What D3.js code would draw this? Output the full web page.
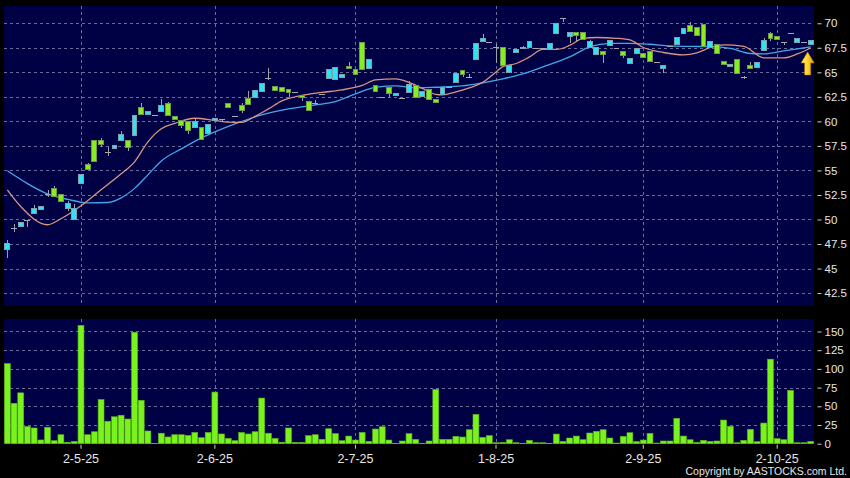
<!DOCTYPE html>
<html><head><meta charset="utf-8">
<script src="https://cdn.jsdelivr.net/npm/d3@7"></script>
<style>
html,body{margin:0;padding:0;background:#000;}
svg{display:block;}
</style></head><body>
<svg id="c" width="850" height="478"></svg>
<script>
// ---------- data ----------
const dateLabels = ["2-5-25","2-6-25","2-7-25","1-8-25","2-9-25","2-10-25"];
const dateTickIndex = [11,31,52,73,95,115];
const priceTicks = [42.5,45,47.5,50,52.5,55,57.5,60,62.5,65,67.5,70];
const volTicks = [0,25,50,75,100,125,150];

const openP = [46.98,49.15,49.28,49.9,50.61,51.01,52.6,53.19,52.54,51.08,
50.04,53.70,55.57,58.08,58.08,56.92,57.23,58.08,58.08,58.59,
61.44,60.73,60.6,61.0,61.85,60.49,60.05,59.95,59.41,59.41,
58.8,60.12,60.25,61.81,60.56,61.58,62.32,62.42,63.03,64.4,
63.54,63.44,63.28,63.03,62.62,62.02,61.85,62.75,64.4,64.22,
64.5,65.6,65.28,67.99,65.44,63.65,62.52,63.48,62.66,62.42,
62.97,63.61,62.49,63.28,62.26,62.77,63.48,63.95,65.21,64.53,
66.33,68.13,68.06,67.55,67.55,65.01,67.05,67.38,67.55,67.45,
67.45,67.35,68.91,70.5,68.63,69.04,69.04,67.48,66.84,67.11,
67.72,67.52,67.11,65.92,66.94,66.87,67.08,66.03,65.4,67.65,
67.79,68.98,69.73,69.56,69.83,67.52,67.79,66.09,65.58,66.33,
64.5,65.72,65.48,67.18,68.91,68.7,68.06,68.98,68.06,68.06,
67.86];
const highP = [47.86,49.56,49.75,49.97,51.49,51.36,53.0,53.37,52.6,51.9,
51.6,54.62,55.74,58.1,58.35,57.4,57.57,59.03,58.08,60.56,
61.85,61.04,60.7,62.29,62.0,60.49,60.05,59.95,60.2,59.41,
59.71,60.35,60.25,61.85,60.56,61.85,63.1,63.14,63.89,65.45,
63.54,63.44,63.28,63.03,62.62,62.02,62.19,62.75,65.28,65.52,
64.8,66.05,65.28,67.99,66.3,63.65,62.52,63.48,62.8,62.42,
64.12,63.7,63.03,63.28,62.26,63.41,63.48,64.91,65.21,64.8,
67.97,68.91,68.06,67.86,67.55,65.65,67.28,67.7,68.16,67.45,
67.45,67.89,69.93,70.5,69.04,69.04,69.04,68.3,67.55,67.11,
68.3,67.52,67.11,66.43,67.38,66.87,67.08,66.03,65.65,67.65,
68.53,69.49,70.16,69.56,69.83,68.13,67.79,66.09,65.75,66.33,
64.66,66.03,66.03,68.45,69.15,68.7,68.06,68.98,68.4,68.06,
68.27];
const lowP = [46.06,48.77,49.28,49.28,50.61,51.01,52.31,52.34,51.83,50.88,
50.04,53.70,55.06,55.9,57.43,56.51,57.23,58.08,57.02,58.59,
60.73,60.73,60.5,61.0,60.63,60.15,59.34,58.69,59.41,58.18,
58.8,60.1,59.92,61.44,60.56,60.83,61.71,62.42,63.03,64.22,
63.17,63.03,62.46,63.03,62.12,61.14,61.7,62.75,64.4,64.22,
64.5,65.42,64.77,65.28,65.44,63.03,62.52,62.46,62.66,62.42,
62.97,62.46,62.49,62.26,61.95,62.77,63.48,63.95,64.5,64.4,
66.33,68.13,68.06,65.99,65.68,65.01,67.05,67.38,67.55,67.45,
67.45,67.35,68.91,70.15,67.96,68.2,68.3,67.48,66.84,65.99,
67.72,67.52,66.43,65.92,66.94,66.53,66.13,66.03,64.97,67.65,
67.79,68.98,69.14,68.74,67.62,67.52,66.94,65.75,65.58,64.91,
64.3,65.35,65.48,67.18,68.2,68.3,67.79,68.98,68.06,68.06,
67.86];
const closeP = [47.52,49.15,49.73,49.9,51.08,51.36,52.6,52.34,51.83,51.6,
51.08,54.58,55.06,55.9,57.6,56.92,57.57,58.65,57.33,60.56,
60.73,61.04,60.6,61.65,60.63,60.15,59.54,59.03,59.95,58.18,
59.71,60.28,60.25,61.44,60.56,61.1,61.71,63.14,63.89,64.4,
63.17,63.03,62.97,63.03,62.39,61.14,61.85,62.75,65.28,65.52,
64.8,65.42,64.77,65.28,66.3,63.03,62.52,62.87,62.8,62.42,
63.79,62.46,63.03,62.26,61.95,63.41,63.48,64.91,64.8,64.53,
67.97,68.47,68.06,67.55,65.68,65.65,67.28,67.55,68.16,67.45,
67.45,67.89,69.93,70.5,69.04,68.74,68.3,68.1,67.55,66.84,
68.23,67.52,66.7,66.43,67.38,66.53,66.13,66.03,65.65,67.65,
68.53,69.49,69.14,68.74,67.62,68.13,66.94,65.75,65.75,64.91,
64.5,65.35,66.03,68.23,68.47,68.3,68.06,68.98,68.4,68.06,
68.27];
const volume = [107,54,68,23,21,5,22,4,12,2,
3,158,12,16,59,30,36,38,33,149,
58,17,0.5,14,9,12,12,11,15,8,
15,69,13,7,4,15,13,16,61,14,
7,2,21,1.8,1.8,10.7,12,5.8,20,13.4,
4,10.2,4.9,15.1,3.1,19.6,22.7,4.9,0.3,3.6,
13.4,5.8,0.3,3.6,72.6,5.8,5.8,9.8,8.9,18.7,
39.2,8.5,10.7,1.3,1.8,5.3,1.3,0.3,4.5,1.3,
1.3,0.3,12.9,3.1,7.6,10.2,5.3,14.3,16.5,18.7,
7.6,0.9,9.8,14.7,2.7,4.9,13.8,0.9,3.6,3.6,
33.9,10.2,5.3,1.8,4.5,3.1,3.6,31.6,23.2,1.3,
4.5,19.2,2.7,27.6,113,6.7,5.3,71.3,1.3,1.3,
3.1];
// moving averages (bar index, value)
const maFastIdx = [0,2,6,8,11,14,17,19,21,23,25,28,31,33,35,37,39,41,44,47,50,53,55,58,60,62,64,65,67,69,71,73,74,76,78,80,82,84,86,88,91,93,95,98,101,103,105,107,110,113,116,118,120];
const maFastVal = [53.02,51.32,49.46,50.07,51.39,53.02,54.65,55.87,57.91,59.24,59.79,60.32,60.1,59.93,59.9,60.51,61.27,62.09,62.65,62.95,63.21,63.66,64.22,64.33,63.97,63.36,62.75,62.7,63.0,63.41,63.97,65.04,65.58,65.9,66.57,67.33,67.33,67.74,68.45,68.55,68.47,68.3,67.53,67.02,66.77,66.97,67.53,67.79,67.64,66.47,66.47,66.87,67.48];
const maSlowIdx = [0,3,6,9,12,15,17,19,21,23,26,29,31,34,38,42,46,49,52,55,58,61,64,68,71,74,77,80,84,87,90,93,96,99,102,105,108,111,113,116,120];
const maSlowVal = [54.96,53.66,52.61,52.05,51.7,51.73,52.2,53.17,54.55,55.97,57.2,58.32,58.93,59.74,60.66,61.27,61.68,62.01,62.8,63.46,63.61,63.41,63.48,63.61,63.92,64.33,64.84,65.55,66.57,67.59,67.94,67.96,67.86,67.69,67.64,67.62,67.43,66.92,66.87,67.18,67.59];

// ---------- layout ----------
const W = 850, H = 478;
const L = 4, R = 814;
const pTop = 6, pBot = 306, vTop = 319, vBot = 443.7;
const svg = d3.select("#c");
const FONT = "'Liberation Sans', Arial, sans-serif";

svg.append("rect").attr("width",W).attr("height",H).attr("fill","#000");

const n = closeP.length;
const x = d3.scaleBand().domain(d3.range(n)).range([L,R]).paddingInner(0.12).paddingOuter(0.06);
const cx = i => x(i) + x.bandwidth()/2;
const y = d3.scaleLinear().domain([41.18,71.76]).range([pBot,pTop]);
const yv = d3.scaleLinear().domain([0,166.7]).range([vBot,vTop]);

const BG = "#000044", GRID = "#6c6c9c";
svg.append("rect").attr("x",L).attr("y",pTop).attr("width",R-L).attr("height",pBot-pTop).attr("fill",BG);
svg.append("rect").attr("x",L).attr("y",vTop).attr("width",R-L).attr("height",vBot-vTop).attr("fill",BG);

// grids
const g = svg.append("g").attr("stroke",GRID).attr("stroke-width",1).attr("stroke-dasharray","3,3").attr("shape-rendering","crispEdges");
g.selectAll(".hp").data(priceTicks).join("line")
  .attr("x1",L).attr("x2",R).attr("y1",d=>Math.round(y(d))+0.5).attr("y2",d=>Math.round(y(d))+0.5);
g.selectAll(".hv").data(volTicks.filter(d=>d>0)).join("line").attr("class","hv")
  .attr("x1",L).attr("x2",R).attr("y1",d=>Math.round(yv(d))+0.5).attr("y2",d=>Math.round(yv(d))+0.5);
g.selectAll(".vp").data(dateTickIndex).join("line").attr("class","vp")
  .attr("x1",d=>Math.round(cx(d))+0.5).attr("x2",d=>Math.round(cx(d))+0.5).attr("y1",pTop).attr("y2",pBot);
g.selectAll(".vv").data(dateTickIndex).join("line").attr("class","vv")
  .attr("x1",d=>Math.round(cx(d))+0.5).attr("x2",d=>Math.round(cx(d))+0.5).attr("y1",vTop).attr("y2",vBot);

// MA lines
const line = d3.line().x(d=>cx(d[0])).y(d=>y(d[1])).curve(d3.curveMonotoneX);
svg.append("path").datum(maSlowIdx.map((d,i)=>[d,maSlowVal[i]]))
  .attr("d",line).attr("fill","none").attr("stroke","#45a6ea").attr("stroke-width",1.3);
svg.append("path").datum(maFastIdx.map((d,i)=>[d,maFastVal[i]]))
  .attr("d",line).attr("fill","none").attr("stroke","#d89580").attr("stroke-width",1.3);

// candles
const data = d3.range(n).map(i=>({i,o:openP[i],h:highP[i],l:lowP[i],c:closeP[i]}));
const cg = svg.append("g").attr("shape-rendering","crispEdges");
cg.selectAll(".wick").data(data).join("line")
  .attr("x1",d=>Math.round(cx(d.i))+0.5).attr("x2",d=>Math.round(cx(d.i))+0.5)
  .attr("y1",d=>y(d.h)).attr("y2",d=>y(d.l)).attr("stroke","#a0a0a8").attr("stroke-width",1);
const bw = x.bandwidth();
cg.selectAll(".doji").data(data.filter(d=>d.o===d.c)).join("line")
  .attr("x1",d=>x(d.i)).attr("x2",d=>x(d.i)+bw)
  .attr("y1",d=>Math.round(y(d.c))+0.5).attr("y2",d=>Math.round(y(d.c))+0.5)
  .attr("stroke","#a8a8b0").attr("stroke-width",1.5);
cg.selectAll(".body").data(data.filter(d=>d.o!==d.c)).join("rect")
  .attr("x",d=>x(d.i)+0.5).attr("width",bw-1)
  .attr("y",d=>y(Math.max(d.o,d.c))).attr("height",d=>Math.max(1,Math.abs(y(d.o)-y(d.c))))
  .attr("fill",d=>d.c>d.o?"#30e2f2":"#86ee22")
  .attr("stroke",d=>d.c>d.o?"#7aa4b0":"#6f9a4a").attr("stroke-width",1);

// volume bars
svg.append("g").selectAll("rect").data(volume).join("rect")
  .attr("x",(d,i)=>x(i)).attr("width",bw)
  .attr("y",d=>yv(d)).attr("height",d=>vBot-yv(d))
  .attr("fill","#7af21e").attr("stroke","#5cb818").attr("stroke-width",0.6);

// axes
const TXT = "#e6e6e6";
function styleAxis(sel){
  sel.select(".domain").remove();
  sel.selectAll("line").attr("stroke","#cfcfcf");
  sel.selectAll("text").attr("fill",TXT).attr("font-family",FONT).attr("font-size","11.5px");
}
svg.append("g").attr("transform",`translate(${R+3.5},0)`)
  .call(d3.axisRight(y).tickValues(priceTicks).tickFormat(d=>String(d)).tickSize(4).tickPadding(3)).call(styleAxis);
svg.append("g").attr("transform",`translate(${R+3.5},0)`)
  .call(d3.axisRight(yv).tickValues(volTicks).tickFormat(d=>String(d)).tickSize(4).tickPadding(3)).call(styleAxis);
const xb = svg.append("g").attr("transform",`translate(0,${vBot+1})`)
  .call(d3.axisBottom(x).tickValues(dateTickIndex).tickFormat((d,i)=>dateLabels[i]).tickSize(4).tickPadding(5.5))
  .call(styleAxis);
xb.selectAll("text").attr("font-size","12.5px");

// copyright
svg.append("text").attr("x",847).attr("y",474.5).attr("text-anchor","end")
  .attr("fill",TXT).attr("font-family",FONT).attr("font-size","10.5px")
  .text("Copyright by AASTOCKS.com Ltd.");

// arrow marker at latest bar
const ax = cx(n-1) - 3, ay = y(maSlowVal[maSlowVal.length-1]) + 5;
const grad = svg.append("defs").append("linearGradient").attr("id","ag").attr("x1","0").attr("x2","1");
grad.append("stop").attr("offset","0").attr("stop-color","#fff3a0");
grad.append("stop").attr("offset","0.5").attr("stop-color","#ffd42a");
grad.append("stop").attr("offset","1").attr("stop-color","#d69a00");
svg.append("path")
  .attr("d",`M${ax},${ay} L${ax+6.5},${ay+11} L${ax+3},${ay+11} L${ax+3},${ay+23} L${ax-3},${ay+23} L${ax-3},${ay+11} L${ax-6.5},${ay+11} Z`)
  .attr("fill","url(#ag)").attr("stroke","#b88000").attr("stroke-width",0.6);
</script>
</body></html>
